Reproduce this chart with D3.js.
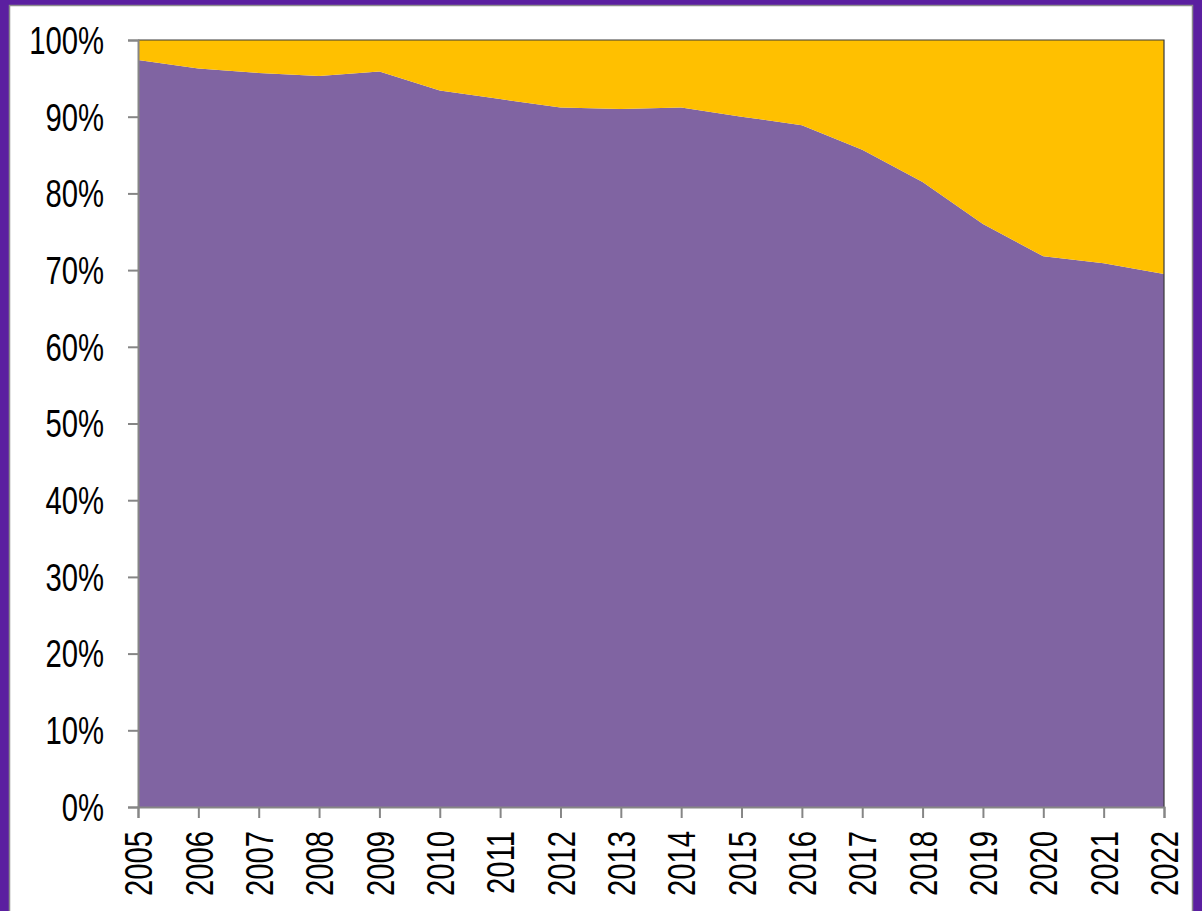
<!DOCTYPE html>
<html>
<head>
<meta charset="utf-8">
<script src="https://cdn.jsdelivr.net/npm/d3@7"></script>
<style>
  html, body { margin: 0; padding: 0; background: #5b1fa0; }
  svg { display: block; }
</style>
</head>
<body>
<div id="chart"></div>
<script>
var years = [2005, 2006, 2007, 2008, 2009, 2010, 2011, 2012, 2013,
             2014, 2015, 2016, 2017, 2018, 2019, 2020, 2021, 2022];
// lower share (purple), in percent
var lowerShare = [97.4, 96.3, 95.7, 95.3, 95.9, 93.4, 92.3, 91.2, 91.0,
                  91.2, 90.0, 88.9, 85.7, 81.5, 76.0, 71.8, 70.9, 69.5];
var yTicks = [0, 10, 20, 30, 40, 50, 60, 70, 80, 90, 100];

var width = 1202, height = 911,
    margin = {top: 40, right: 38, bottom: 104, left: 138},
    squeeze = 0.77;  // no narrow face installed, so condense the glyphs by hand

var rows = years.map(function(y, i) {
  return {year: y, lower: lowerShare[i], upper: 100 - lowerShare[i]};
});

var svg = d3.select("#chart").append("svg")
    .attr("width", width)
    .attr("height", height);

// purple frame, grey rule, white panel
svg.append("rect")
    .attr("x", 0).attr("y", 0)
    .attr("width", width).attr("height", height)
    .attr("fill", "#5b1fa0");
svg.append("rect")
    .attr("x", 9.5).attr("y", 5.5)
    .attr("width", 1183).attr("height", 930)
    .attr("fill", "#fff")
    .attr("stroke", "#8c8c8c")
    .attr("stroke-width", 1.5);

var x = d3.scaleLinear()
    .domain(d3.extent(years))
    .range([margin.left, width - margin.right]);

var y = d3.scaleLinear()
    .domain([0, 100])
    .range([height - margin.bottom, margin.top]);

var stack = d3.stack().keys(["lower", "upper"]);
var series = stack(rows);
var colors = {lower: "#8064a2", upper: "#ffc000"};

var area = d3.area()
    .x(function(d) { return x(d.data.year); })
    .y0(function(d) { return y(d[0]); })
    .y1(function(d) { return y(d[1]); });

svg.selectAll("path.layer")
    .data(series)
  .enter().append("path")
    .attr("class", "layer")
    .attr("fill", function(d) { return colors[d.key]; })
    .attr("d", area);

// top and right edge of the plot
svg.append("path")
    .attr("fill", "none")
    .attr("stroke", "#3a3a3a")
    .attr("stroke-width", 1.2)
    .attr("d", "M" + x(2005) + "," + y(100) + "H" + x(2022) + "V" + y(0));

var font = "'Liberation Sans Narrow', 'Arial Narrow', 'Liberation Sans', sans-serif";

var yAxis = svg.append("g")
    .attr("transform", "translate(" + margin.left + ",0)")
    .call(d3.axisLeft(y)
      .tickValues(yTicks)
      .tickSize(10)
      .tickPadding(23)
      .tickFormat(function(d) { return d + "%"; }));

var xAxis = svg.append("g")
    .attr("transform", "translate(0," + (height - margin.bottom) + ")")
    .call(d3.axisBottom(x)
      .tickValues(years)
      .tickSize(11)
      .tickFormat(d3.format("d")));

[yAxis, xAxis].forEach(function(g) {
  g.select(".domain").attr("stroke", "#868686").attr("stroke-width", 2);
  g.selectAll(".tick line").attr("stroke", "#868686").attr("stroke-width", 2);
  g.selectAll("text")
    .attr("fill", "#000")
    .style("font-family", font)
    .style("font-size", "38px");
});

yAxis.selectAll("text")
    .attr("transform", "scale(" + squeeze + ",1)")
    .attr("x", -34 / squeeze)
    .attr("dy", "0.35em");

xAxis.selectAll("text")
    .attr("transform", "rotate(-90) scale(" + squeeze + ",1)")
    .attr("text-anchor", "end")
    .attr("x", -24 / squeeze)
    .attr("y", 0)
    .attr("dy", "0.36em");
</script>
</body>
</html>
